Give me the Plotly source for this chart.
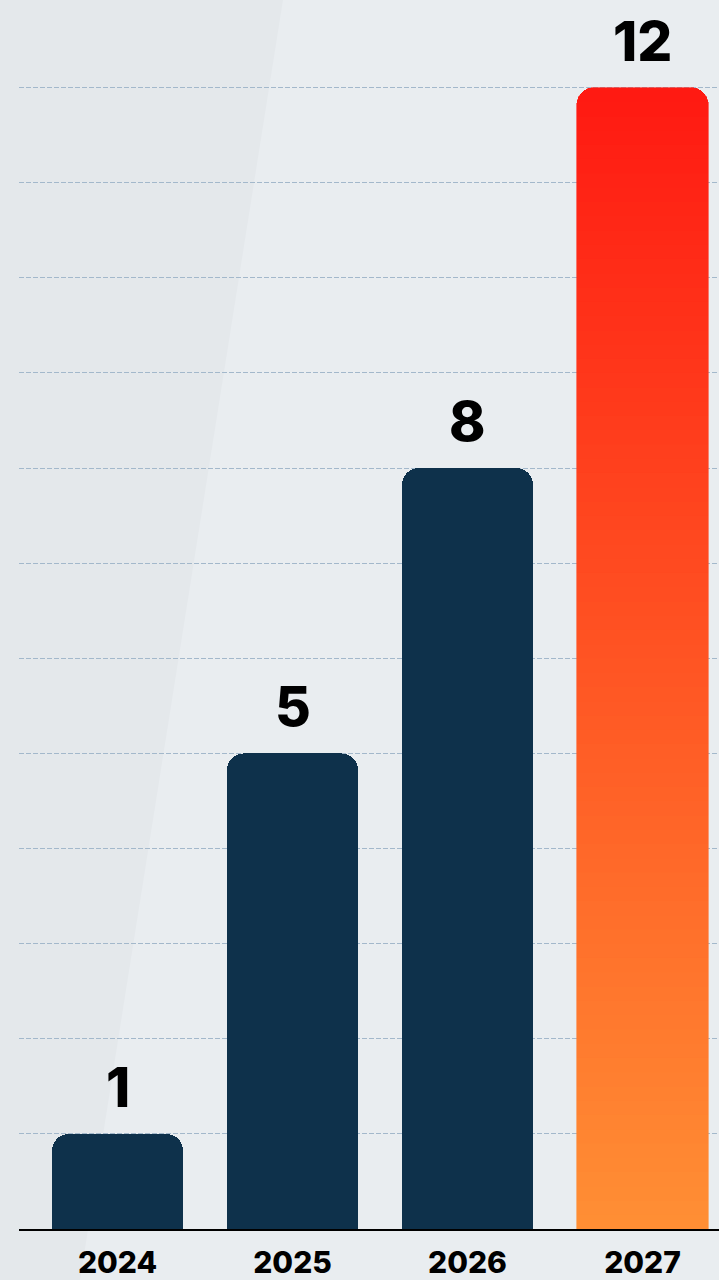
import plotly.graph_objects as go

years = ["2024", "2025", "2026", "2027"]
values = [1, 5, 8, 12]
highlight = "2027"

DARK = "#0e314b"
GRAD_TOP = (255, 26, 18)
GRAD_BOT = (255, 142, 52)
BG = "#e9edf0"
STRIPE = "#e4e8eb"
GRID = "#a3b8cb"
FONT = "Inter"

W, H = 719, 1280
ML, MR, MT, MB = 19, 0, 40, 51
YMAX = 12.5

fig = go.Figure()

dark_x = [y for y in years if y != highlight]
dark_v = [v for y, v in zip(years, values) if y != highlight]
fig.add_trace(go.Bar(x=dark_x, y=dark_v, marker=dict(color=DARK, line=dict(width=0)),
                     hoverinfo="skip", showlegend=False))

# gradient bar built from stacked slices of the highlighted value
hv = values[years.index(highlight)]
N = 80
for k in range(N):
    t = k / (N - 1)  # 0 bottom -> 1 top
    c = tuple(round(GRAD_BOT[i] + (GRAD_TOP[i] - GRAD_BOT[i]) * t) for i in range(3))
    fig.add_trace(go.Bar(x=[highlight], y=[hv / N],
                         marker=dict(color="rgb(%d,%d,%d)" % c, line=dict(width=0.6, color="rgb(%d,%d,%d)" % c)),
                         hoverinfo="skip", showlegend=False))

for i, (y, v) in enumerate(zip(years, values)):
    fig.add_annotation(x=i, y=v, text=str(v), showarrow=False, yanchor="bottom",
                       yshift=12, font=dict(family=FONT, size=55, color="#000000", weight=800))

# lighter diagonal band (background decoration)
pw = W - ML - MR
ph = H - MT - MB
def px(x): return (x - ML) / pw
def py(y): return (H - MB - y) / ph
fig.add_shape(type="path", xref="paper", yref="paper", layer="below",
              path="M %f,%f L %f,%f L %f,%f L %f,%f Z" % (px(0), py(0), px(283), py(0), px(80), py(1280), px(0), py(1280)),
              fillcolor=STRIPE, line=dict(width=0))

fig.update_layout(
    width=W, height=H,
    margin=dict(l=ML, r=MR, t=MT, b=MB, pad=0, autoexpand=False),
    paper_bgcolor=BG, plot_bgcolor="rgba(0,0,0,0)",
    barmode="stack", bargap=0.25, barcornerradius=17,
    showlegend=False,
    xaxis=dict(type="category", categoryorder="array", categoryarray=years,
               range=[-0.563, len(years) - 0.563], automargin=False,
               showline=True, linecolor="#000000", linewidth=2, showgrid=False,
               ticks="", ticklabelstandoff=6,
               tickfont=dict(family=FONT, size=30, color="#000000", weight=800),
               fixedrange=True),
    yaxis=dict(range=[0, YMAX], dtick=1, showticklabels=False, ticks="", automargin=False,
               showgrid=True, gridcolor=GRID, gridwidth=1, griddash="5px,2px",
               zeroline=False, showline=False, fixedrange=True),
)

fig.write_html("out.html", config={"displayModeBar": False})
